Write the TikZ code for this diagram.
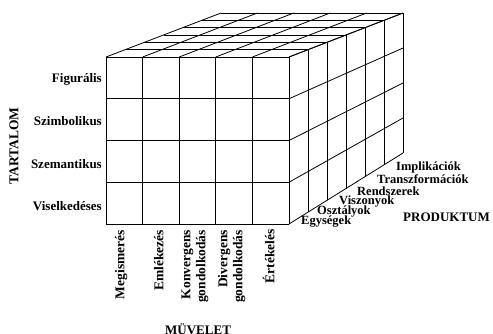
\documentclass[tikz,border=0pt]{standalone}
\usepackage{fontspec}
\setmainfont{Liberation Serif}
\begin{document}
\begin{tikzpicture}[x=1pt,y=-1pt,
  grid/.style={draw=black,line width=0.8pt,line join=round},
  lbl/.style={font=\fontsize{13}{15}\selectfont\bfseries,inner sep=0pt},
  oplbl/.style={font=\fontsize{13.5}{15}\selectfont\bfseries,inner sep=0pt,rotate=90,anchor=mid east},
  prlbl/.style={font=\fontsize{12.5}{14}\selectfont\bfseries,inner sep=0pt,anchor=west}]
\useasboundingbox (0,0) rectangle (493,333);
\clip (0,0) rectangle (493,333);
\fill[white] (0,0) rectangle (493,333);
% corners
\coordinate (FTL) at (106,57);
\coordinate (FTR) at (289,57);
\coordinate (FBL) at (106,224);
\coordinate (FBR) at (289,224);
\coordinate (BTL) at (221,13);
\coordinate (BTR) at (403,13);
\coordinate (BBR) at (403,153);
% front face
\foreach \i in {0,...,5} {
  \draw[grid] (106+36.6*\i,57) -- (106+36.6*\i,224);
}
\foreach \j in {0,...,4} {
  \draw[grid] (106,57+41.75*\j) -- (289,57+41.75*\j);
}
% right face
\foreach \j in {0,...,4} {
  \draw[grid] (289,57+41.75*\j) -- (403,13+35*\j);
}
\foreach \k in {1,...,6} {
  \draw[grid] (289+19*\k,57-44*\k/6) -- (289+19*\k,224-71*\k/6);
}
% top face
\foreach \i in {0,...,5} {
  \draw[grid] (106+36.6*\i,57) -- (221+36.4*\i,13);
}
\foreach \k in {1,...,6} {
  \draw[grid] (106+115*\k/6,57-44*\k/6) -- (289+114*\k/6,57-44*\k/6);
}
% row labels
\node[lbl,anchor=base east] (r1) at (102,82) {Figurális};
\node[lbl,anchor=base east] (r2) at (102,125) {Szimbolikus};
\node[lbl,anchor=base east] (r3) at (102,168) {Szemantikus};
\node[lbl,anchor=base east] (r4) at (102,210) {Viselkedéses};
\node[lbl,rotate=90,font=\fontsize{13.5}{15}\selectfont\bfseries] (tart) at (14,146) {TARTALOM};
% operation labels
\node[oplbl] (o1) at (122,230) {Megismerés};
\node[oplbl] (o2) at (161,230) {Emlékezés};
\node[oplbl] (o3a) at (188,230) {Konvergens};
\node[oplbl] (o3b) at (203,230) {gondolkodás};
\node[oplbl] (o4a) at (225,230) {Divergens};
\node[oplbl] (o4b) at (240,230) {gondolkodás};
\node[oplbl] (o5) at (272,229) {Értékelés};
\node[lbl,anchor=base west] (muv) at (165,334) {MÜVELET};
% product labels
\node[prlbl] (p6) at (396,167) {Implikációk};
\node[prlbl] (p5) at (377,179) {Transzformációk};
\node[prlbl] (p4) at (357,191) {Rendszerek};
\node[prlbl] (p3) at (339,202) {Viszonyok};
\node[prlbl] (p2) at (317,212) {Osztályok};
\node[prlbl] (p1) at (301,222) {Egységek};
\node[lbl,anchor=west] (prod) at (403,217) {PRODUKTUM};
\end{tikzpicture}
\end{document}
